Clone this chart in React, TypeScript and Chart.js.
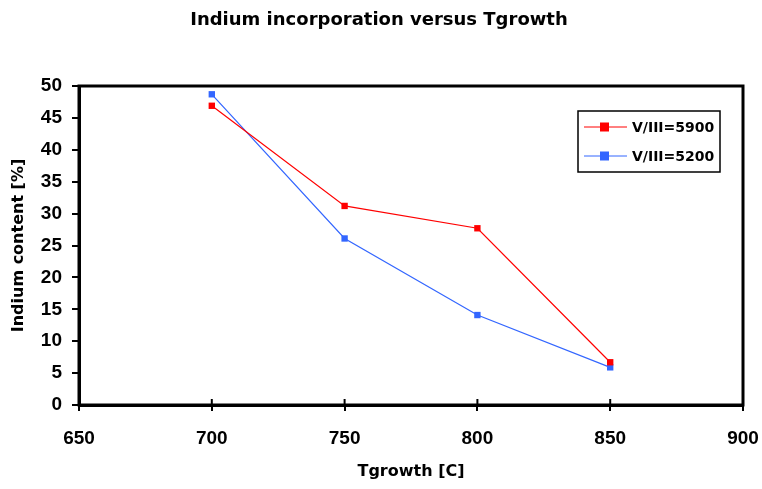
import React, { useEffect, useRef } from "react";
import { Chart, registerables } from "chart.js";

Chart.register(...registerables);

const titleText = "Indium incorporation versus Tgrowth";
const xTitle = "Tgrowth [C]";
const yTitle = "Indium content [%]";
const temperatures = [700, 750, 800, 850];
const series5900 = [46.9, 31.2, 27.7, 6.7];
const series5200 = [48.7, 26.1, 14.1, 5.9];
const seriesLabels = ["V/III=5900", "V/III=5200"];
const seriesColors = ["#FF0000", "#3366FF"];

const FONT = "'Liberation Sans', Arial, sans-serif";
const WIDE = "'DejaVu Sans', sans-serif";

const framePlugin = {
  id: "frame",
  afterDraw(chart: any) {
    const { ctx, chartArea } = chart;
    ctx.save();
    ctx.strokeStyle = "#000";
    ctx.lineWidth = 3;
    ctx.strokeRect(chartArea.left, chartArea.top, chartArea.right - chartArea.left, chartArea.bottom - chartArea.top);
    const xs = chart.scales.x;
    ctx.lineWidth = 2;
    xs.ticks.forEach((t: any) => {
      const px = xs.getPixelForValue(t.value);
      ctx.beginPath();
      ctx.moveTo(px, chartArea.bottom);
      ctx.lineTo(px, chartArea.bottom - 6);
      ctx.stroke();
    });
    ctx.fillStyle = "#000";
    ctx.font = `bold 18px ${WIDE}`;
    ctx.textAlign = "center";
    ctx.textBaseline = "middle";
    ctx.fillText(titleText, 379, 20);
    const bx = 578, by = 111, bw = 142, bh = 61;
    ctx.lineWidth = 1.5;
    ctx.strokeRect(bx, by, bw, bh);
    ctx.font = `bold 14px ${WIDE}`;
    ctx.textAlign = "left";
    chart.data.datasets.forEach((ds: any, i: number) => {
      const cy = by + 16 + i * 29;
      ctx.strokeStyle = ds.borderColor;
      ctx.lineWidth = 1;
      ctx.beginPath();
      ctx.moveTo(bx + 6, cy);
      ctx.lineTo(bx + 49, cy);
      ctx.stroke();
      ctx.fillStyle = ds.backgroundColor;
      ctx.fillRect(bx + 22, cy - 4.5, 9, 9);
      ctx.fillStyle = "#000";
      ctx.fillText(ds.label, bx + 54, cy + 1);
    });
    ctx.restore();
  },
};

export default function App() {
  const ref = useRef<HTMLCanvasElement>(null);
  useEffect(() => {
    if (!ref.current) return;
    const chart = new Chart(ref.current, {
      type: "line",
      data: {
        datasets: [
          {
            label: seriesLabels[0],
            data: temperatures.map((t, i) => ({ x: t, y: series5900[i] })),
            borderColor: seriesColors[0],
            backgroundColor: seriesColors[0],
            borderWidth: 1.2,
            pointStyle: "rect",
            pointRadius: 4.5,
            pointBorderWidth: 0,
          },
          {
            label: seriesLabels[1],
            data: temperatures.map((t, i) => ({ x: t, y: series5200[i] })),
            borderColor: seriesColors[1],
            backgroundColor: seriesColors[1],
            borderWidth: 1.2,
            pointStyle: "rect",
            pointRadius: 4.5,
            pointBorderWidth: 0,
          },
        ],
      },
      options: {
        animation: false,
        responsive: false,
        layout: { padding: { top: 86, right: 19, left: 0, bottom: 0 } },
        plugins: { legend: { display: false }, title: { display: false }, tooltip: { enabled: false } },
        scales: {
          x: {
            type: "linear",
            min: 650,
            max: 900,
            ticks: { stepSize: 50, color: "#000", font: { family: FONT, size: 19, weight: "bold" }, padding: 16 },
            grid: { drawOnChartArea: false, drawTicks: true, tickLength: 6, color: "#000", lineWidth: 2 },
            border: { display: true, color: "#000", width: 3 },
            title: { display: true, text: xTitle, color: "#000", font: { family: WIDE, size: 16, weight: "bold" }, padding: { top: 0, bottom: 8 } },
            afterFit: (s: any) => { s.height = 84; s.paddingLeft = 0; s.paddingRight = 0; },
          },
          y: {
            min: 0,
            max: 50,
            ticks: { stepSize: 5, color: "#000", font: { family: FONT, size: 19, weight: "bold" }, padding: 10 },
            grid: { drawOnChartArea: false, drawTicks: true, tickLength: 7, color: "#000", lineWidth: 2 },
            border: { display: true, color: "#000", width: 3 },
            title: { display: true, text: yTitle, color: "#000", font: { family: WIDE, size: 16, weight: "bold" }, padding: { top: 9, bottom: 0 } },
            afterFit: (s: any) => { s.width = 79; s.paddingTop = 0; s.paddingBottom = 0; },
          },
        },
      },
      plugins: [framePlugin],
    } as any);
    return () => chart.destroy();
  }, []);
  return (
    <div style={{ position: "fixed", left: 0, top: 0, width: 762, height: 489, background: "#fff" }}>
      <canvas ref={ref} width={762} height={489} style={{ width: 762, height: 489, display: "block" }} />
    </div>
  );
}
